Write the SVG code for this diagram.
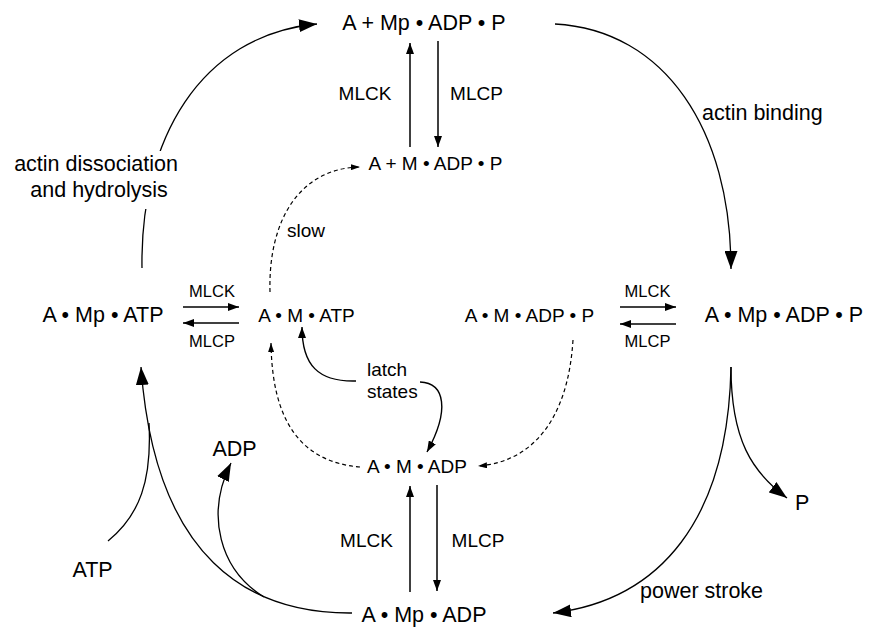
<svg xmlns="http://www.w3.org/2000/svg" width="874" height="631" viewBox="0 0 874 631">
  <style>
    text { font-family: "Liberation Sans", Arial, sans-serif; fill: #000; }
    .big { font-size: 21.5px; }
    .med { font-size: 19px; }
    .sm { font-size: 16.5px; }
    .mid { text-anchor: middle; }
    .curve { fill: none; stroke: #000; stroke-width: 1.3; }
    .step { fill: none; stroke: #000; stroke-width: 1.5; }
    .dash { fill: none; stroke: #000; stroke-width: 1.2; stroke-dasharray: 4 3; }
  </style>
  <defs>
    <marker id="headL" markerUnits="userSpaceOnUse" markerWidth="18" markerHeight="13" viewBox="0 0 18 13" refX="18" refY="6.5" orient="auto">
      <path d="M0,0 L18,6.5 L0,13 Z" fill="#000"/>
    </marker>
    <marker id="headM" markerUnits="userSpaceOnUse" markerWidth="11" markerHeight="8" viewBox="0 0 11 8" refX="11" refY="4" orient="auto">
      <path d="M0,0 L11,4 L0,8 Z" fill="#000"/>
    </marker>
    <marker id="headS" markerUnits="userSpaceOnUse" markerWidth="9" markerHeight="6" viewBox="0 0 9 6" refX="9" refY="3" orient="auto">
      <path d="M0,0 L9,3 L0,6 Z" fill="#000"/>
    </marker>
  </defs>

  <g id="connectors">
    <!-- outer cycle -->
    <path class="curve" d="M142,268 C140,140 200,35 317,24" marker-end="url(#headL)"/>
    <rect x="6" y="151" width="182" height="58" fill="#fff"/>
    <text class="big mid" x="96" y="171">actin dissociation</text>
    <text class="big mid" x="99" y="197">and hydrolysis</text>

    <path class="curve" d="M555,24 C665,30 731,130 731,269" marker-end="url(#headL)"/>
    <text class="big" x="702" y="120">actin binding</text>

    <path class="curve" d="M731,367 C728,520 660,600 553,613" marker-end="url(#headL)"/>
    <path class="curve" d="M731,367 C731,440 752,472 787,498" marker-end="url(#headL)"/>
    <text class="big" x="640" y="598">power stroke</text>

    <!-- ADP release and ATP binding -->
    <path class="curve" d="M352,613 C250,614 155,560 141,367" marker-end="url(#headL)"/>
    <path class="curve" d="M108,541 C140,515 152,480 149,423"/>
    <path class="curve" d="M264,597 C220,570 205,515 231,463" marker-end="url(#headL)"/>

    <!-- phosphorylation steps -->
    <path class="step" d="M410,147 L410,43" marker-end="url(#headM)"/>
    <path class="step" d="M438,41 L438,147" marker-end="url(#headM)"/>
    <text class="med mid" x="365" y="100">MLCK</text>
    <text class="med mid" x="476.5" y="100">MLCP</text>

    <path class="step" d="M183,307 L239,307" marker-end="url(#headM)"/>
    <path class="step" d="M239,323 L183,323" marker-end="url(#headM)"/>
    <text class="sm mid" x="212" y="297">MLCK</text>
    <text class="sm mid" x="212" y="347">MLCP</text>

    <path class="step" d="M620,307 L676,307" marker-end="url(#headM)"/>
    <path class="step" d="M676,324 L620,324" marker-end="url(#headM)"/>
    <text class="sm mid" x="647.5" y="297">MLCK</text>
    <text class="sm mid" x="647.5" y="347">MLCP</text>

    <path class="step" d="M410,592 L410,486" marker-end="url(#headM)"/>
    <path class="step" d="M437,485 L437,591" marker-end="url(#headM)"/>
    <text class="med mid" x="366.5" y="547">MLCK</text>
    <text class="med mid" x="478" y="547">MLCP</text>

    <!-- latch pathways -->
    <path class="dash" d="M270,292 C268,220 300,168 360,167" marker-end="url(#headS)"/>
    <text class="med" x="287" y="237">slow</text>
    <path class="dash" d="M360,467 C300,462 272,420 271,343" marker-end="url(#headS)"/>
    <path class="dash" d="M573,340 C568,420 532,462 478,466" marker-end="url(#headS)"/>

    <path class="step" style="stroke-width:1.4" d="M356,381 C318,382 302,365 302,327" marker-end="url(#headM)"/>
    <path class="step" style="stroke-width:1.4" d="M420,382 C445,383 450,410 427,452" marker-end="url(#headM)"/>
    <text class="med" x="367" y="376">latch</text>
    <text class="med" x="367" y="398">states</text>
  </g>

  <g id="node-A-Mp-ADP-P-free">
    <text class="big mid" x="424" y="30">A + Mp • ADP • P</text>
  </g>
  <g id="node-A-M-ADP-P-free">
    <text class="med mid" x="435.5" y="170">A + M • ADP • P</text>
  </g>
  <g id="node-A-Mp-ATP">
    <text class="big mid" x="103" y="322">A • Mp • ATP</text>
  </g>
  <g id="node-A-M-ATP">
    <text class="med mid" x="306.5" y="322">A • M • ATP</text>
  </g>
  <g id="node-A-M-ADP-P">
    <text class="med mid" x="529.5" y="322">A • M • ADP • P</text>
  </g>
  <g id="node-A-Mp-ADP-P">
    <text class="big mid" x="784" y="322">A • Mp • ADP • P</text>
  </g>
  <g id="node-A-M-ADP">
    <text class="med mid" x="417" y="473">A • M • ADP</text>
  </g>
  <g id="node-A-Mp-ADP">
    <text class="big mid" x="424" y="622">A • Mp • ADP</text>
  </g>
  <g id="node-ADP">
    <text class="big mid" x="234.5" y="456">ADP</text>
  </g>
  <g id="node-ATP">
    <text class="big mid" x="92.5" y="577">ATP</text>
  </g>
  <g id="node-P">
    <text class="big" x="795" y="510">P</text>
  </g>
</svg>
